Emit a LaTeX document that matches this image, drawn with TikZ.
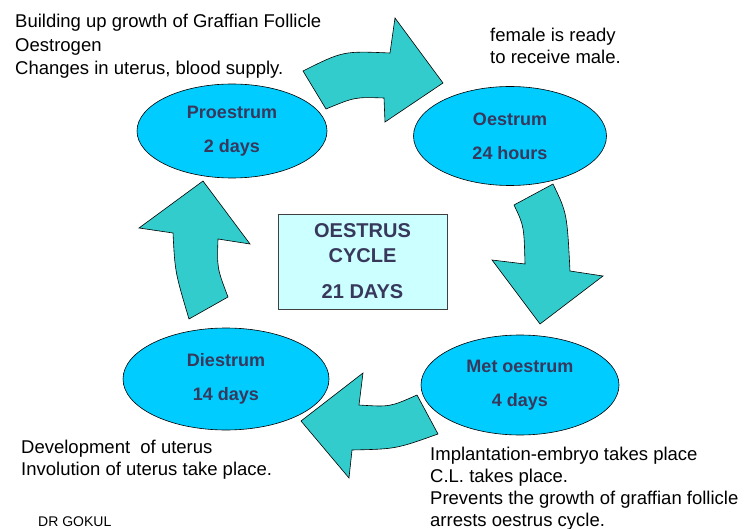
\documentclass[tikz,border=0pt]{standalone}
\usepackage{fontspec}
\setmainfont{Liberation Sans}
\usetikzlibrary{shapes.geometric}
\definecolor{azulfase}{RGB}{0,204,255}
\definecolor{turquesa}{RGB}{51,204,204}
\definecolor{cianoclaro}{RGB}{204,255,255}
\definecolor{ardosia}{RGB}{56,56,92}
\tikzset{
  fase/.style={ellipse,draw=black,fill=azulfase,line width=0.6pt,inner sep=2pt,
    align=center,text=ardosia,font=\fontsize{18}{34}\selectfont\bfseries},
  caixa/.style={rectangle,draw=black!75,fill=cianoclaro,line width=0.8pt,
    align=center,text=ardosia,font=\fontsize{20}{25}\selectfont\bfseries},
  seta/.style={draw=black,fill=turquesa,line width=0.6pt,line join=miter},
  nota/.style={anchor=north west,inner sep=0pt,align=left,
    font=\fontsize{18.5}{22}\selectfont}
}
\begin{document}
\begin{tikzpicture}[x=1pt,y=-1pt]
\useasboundingbox (0,0) rectangle (754,529);
% curved arrows of the cycle
\draw[seta] (326,109) -- (303,71) .. controls (343,51) .. (390,53) -- (395,18)
  -- (443,83) -- (385,122) -- (384,98) .. controls (355,97) .. (326,109) -- cycle;
\draw[seta] (514,205) -- (553,184) .. controls (567,213) .. (570,271) -- (603,276)
  -- (540,324) -- (492,260) -- (525,264) .. controls (524,226) .. (514,205) -- cycle;
\draw[seta] (417,395) -- (438,434) .. controls (396,449) .. (352,450) -- (349,478)
  -- (301,421) -- (363,373) -- (359,405) .. controls (390,407) .. (417,395) -- cycle;
\draw[seta] (189,319) .. controls (175,272) .. (173,233) -- (139,228) -- (203,181)
  -- (250,244) -- (218,239) .. controls (217,268) .. (228,297) -- cycle;
% phases
\node[fase,minimum width=190pt,minimum height=94pt] (proestrum) at (232,131)
  {Proestrum\\2 days};
\node[fase,minimum width=193pt,minimum height=99pt] (oestrum) at (510,136)
  {Oestrum\\24 hours};
\node[fase,minimum width=198pt,minimum height=100pt] (metoestrum) at (520,385)
  {Met oestrum\\4 days};
\node[fase,minimum width=206pt,minimum height=102pt] (diestrum) at (226,379)
  {Diestrum\\14 days};
\node[caixa,minimum width=169pt,minimum height=95pt] (ciclo) at (362.5,261.5)
  {OESTRUS\\CYCLE\\[11pt]21 DAYS};
% notes
\node[nota,font=\fontsize{18.5}{23.5}\selectfont] (notapro) at (15,14)
  {Building up growth of Graffian Follicle\\Oestrogen\\Changes in uterus, blood supply.};
\node[nota] (notaoes) at (490,28) {female is ready\\to receive male.};
\node[nota] (notadie) at (21,440) {Development\ \ of uterus\\
  Involution of uterus take place.};
\node[nota] (notamet) at (430,447) {Implantation-embryo takes place\\
  C.L. takes place.\\Prevents the growth of graffian follicle\\
  arrests oestrus cycle.};
\node[nota,font=\fontsize{14}{16}\selectfont] (autor) at (38,517) {DR GOKUL};
\end{tikzpicture}
\end{document}
